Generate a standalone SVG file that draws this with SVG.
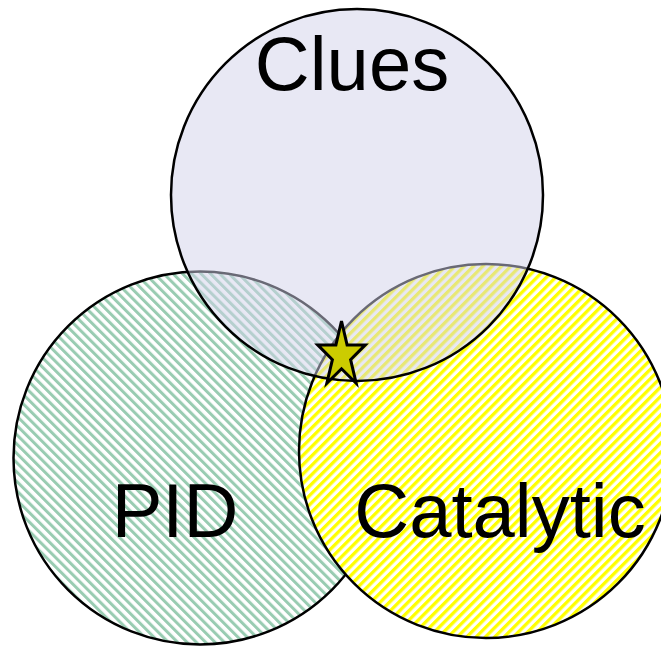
<svg xmlns="http://www.w3.org/2000/svg" width="661" height="649" viewBox="0 0 661 649">
  <defs>
    <pattern id="hatchGreen" width="6.6" height="6.6" patternUnits="userSpaceOnUse" patternTransform="rotate(-45)">
      <rect width="6.6" height="6.6" fill="#ffffff"/>
      <rect width="3" height="6.6" fill="#99ccb2"/>
    </pattern>
    <pattern id="hatchYellow" width="6.6" height="6.6" patternUnits="userSpaceOnUse" patternTransform="rotate(45)">
      <rect width="6.6" height="6.6" fill="#ffffff"/>
      <rect width="3.3" height="6.6" fill="#ffff00"/>
    </pattern>
  </defs>
  <style>
    .set { stroke: #000000; stroke-width: 2.5; }
    .label { font-family: "Liberation Sans", Arial, sans-serif; font-size: 76px; fill: #000000; text-anchor: middle; }
  </style>
  <rect width="661" height="649" fill="#ffffff"/>
  <g id="pid">
    <circle class="set" cx="200" cy="458" r="186.5" fill="url(#hatchGreen)"/>
    <text class="label" x="175" y="537">PID</text>
  </g>
  <g id="catalytic">
    <circle class="set" cx="486" cy="451" r="187" fill="url(#hatchYellow)"/>
    <text class="label" x="500" y="537">Catalytic</text>
  </g>
  <g id="clues">
    <circle class="set" cx="357" cy="195" r="186" fill="#d2d2e9" fill-opacity="0.5"/>
    <text class="label" x="352" y="90">Clues</text>
  </g>
  <g id="star">
    <polygon points="341.5,321 347.1,344.9 365.3,344.9 350.6,359.6 356.2,383.3 341.5,368.8 326.8,383.3 332.4,359.6 317.7,344.9 335.9,344.9" fill="#cccc00" stroke="#000000" stroke-width="3" stroke-linejoin="miter"/>
  </g>
</svg>
